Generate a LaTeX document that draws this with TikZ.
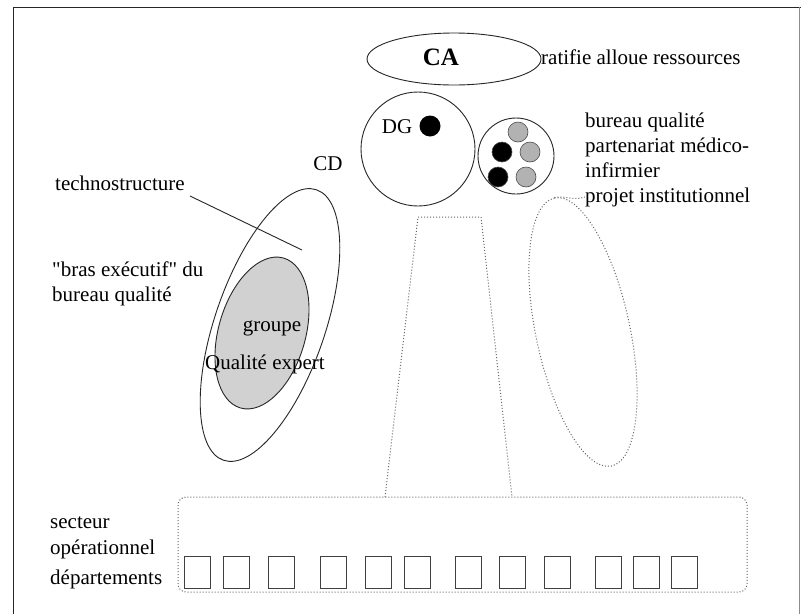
\documentclass[tikz,border=0pt]{standalone}
\usepackage{fontspec}
\setmainfont{Liberation Serif}[Ligatures=TeXOff]
\usetikzlibrary{shapes.geometric}
\begin{document}
\begin{tikzpicture}[x=1pt,y=-1pt,
  every node/.style={font=\fontsize{21}{25}\selectfont, inner sep=0pt},
  solid line/.style={draw=black!85, line width=0.9pt},
  dotline/.style={draw=black!60, dotted, line width=1pt},
  txt/.style={anchor=base west},
  blob/.style={circle, draw=black!70, line width=0.6pt, minimum size=20pt},
  dept/.style={draw=black!75, line width=1pt, minimum width=26pt, minimum height=32pt, anchor=north west}]
\useasboundingbox (0,0) rectangle (801,614);
\fill[white] (0,0) rectangle (801,614);

% page frame
\draw[solid line] (13,614) -- (13,7) -- (801,7);
\draw[black!45, line width=0.8pt] (799,7) -- (799,614);

% conseil d'administration
\node[ellipse, solid line, minimum width=174pt, minimum height=52pt] (ca) at (454,59) {};
\node[font=\fontsize{25}{29}\selectfont\bfseries] (catxt) at (441,57) {CA};
\node[txt] (ratifie) at (541,64) {ratifie alloue ressources};

% comite de direction
\node[circle, solid line, minimum size=114pt] (cd) at (418,149) {};
\node (dg) at (397,127) {DG};
\node[circle, fill=black, minimum size=21pt] (dgdot) at (430,126) {};
\node (cdlbl) at (328,164) {CD};

% bureau qualite
\node[circle, solid line, minimum size=76pt] (bq) at (516,156) {};
\node[blob, fill=black!30] (b1) at (518,132) {};
\node[blob, fill=black] (b2) at (502,152) {};
\node[blob, fill=black!30] (b3) at (530,152) {};
\node[blob, fill=black] (b4) at (498,177) {};
\node[blob, fill=black!30] (b5) at (526,177) {};
\node[txt] (t1) at (585,127) {bureau qualité};
\node[txt] (t2) at (585,152) {partenariat médico-};
\node[txt] (t3) at (585,177) {infirmier};
\node[txt] (t4) at (585,202) {projet institutionnel};

% technostructure
\node[ellipse, solid line, rotate=71, minimum width=286pt, minimum height=110pt] (techno) at (270,325) {};
\node[ellipse, solid line, fill=black!18, rotate=74, minimum width=156pt, minimum height=87pt] (gqe) at (262,333) {};
\node (groupe) at (272,328) {groupe};
\node (qexp) at (265,364) {Qualité expert};
\node[txt] (technotxt) at (55,190) {technostructure};
\coordinate (technoend) at (302,250);
\draw[solid line] (190,196) -- (technoend);
\node[txt] (bras1) at (52,276) {"bras exécutif" du};
\node[txt] (bras2) at (52,301) {bureau qualité};

% support logistique (dotted)
\node[ellipse, dotline, rotate=102, minimum width=274pt, minimum height=94pt] (support) at (583,332) {};
\draw[dotline] (support.east) to[out=10, in=200] (t4.west);

% ligne hierarchique
\coordinate (lt) at (418,217);
\coordinate (rt) at (481,217);
\coordinate (lb) at (385,497);
\coordinate (rb) at (512,497);
\draw[dotline] (lb) -- (lt) -- (rt) -- (rb);

% secteur operationnel
\draw[dotline, rounded corners=8pt] (178,497) rectangle (747,592);
\node[txt] (sect1) at (50,528) {secteur};
\node[txt] (sect2) at (50,554) {opérationnel};
\node[txt] (sect3) at (50,584) {départements};
\foreach \x [count=\i] in {184,223,268,320,365,404,455,499,544,595,633,671}
  \node[dept] (d\i) at (\x,556) {};
\end{tikzpicture}
\end{document}
